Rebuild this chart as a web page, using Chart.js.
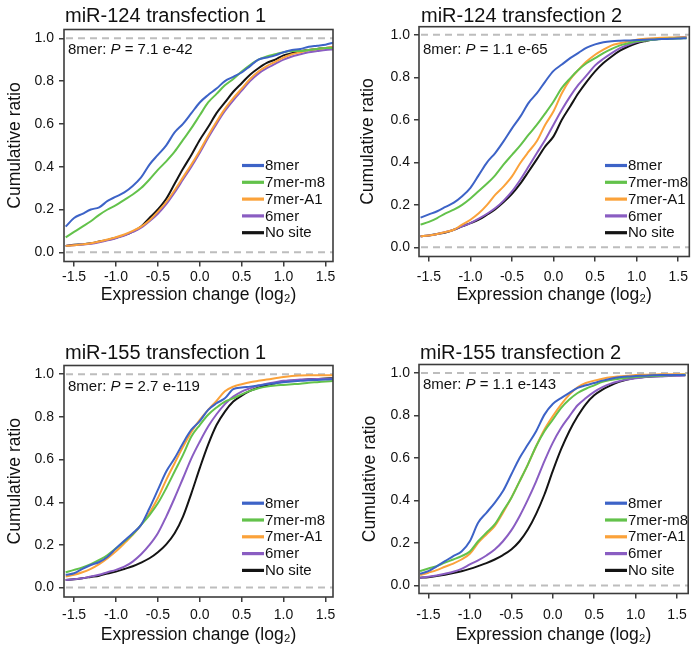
<!DOCTYPE html>
<html><head><meta charset="utf-8">
<script src="https://cdn.jsdelivr.net/npm/chart.js@4.4.1/dist/chart.umd.min.js"></script>
<style>
html,body{margin:0;padding:0;background:#fff;overflow:hidden;width:691px;height:648px;}
#wrap{position:relative;width:691px;height:648px;overflow:hidden;background:#fff;}
canvas{position:absolute;}
</style></head><body><div id="wrap">
<canvas id="c1" width="345" height="320" style="left:0px;top:0px"></canvas>
<canvas id="c2" width="350" height="320" style="left:345px;top:0px"></canvas>
<canvas id="c3" width="345" height="328" style="left:0px;top:320px"></canvas>
<canvas id="c4" width="350" height="328" style="left:345px;top:320px"></canvas>
</div>
<script>
// ---------- data ----------
const X_VALUES = [-1.6,-1.5,-1.4,-1.3,-1.2,-1.1,-1.0,-0.9,-0.8,-0.7,-0.6,-0.5,-0.4,-0.3,-0.2,-0.1,0,0.1,0.2,0.3,0.4,0.5,0.6,0.7,0.8,0.9,1.0,1.1,1.2,1.3,1.4,1.5,1.6];
const Y_TICKS = [0,0.2,0.4,0.6,0.8,1.0];
const X_TICKS = [-1.5,-1.0,-0.5,0,0.5,1.0,1.5];
const SERIES_NAMES = ['8mer','7mer-m8','7mer-A1','6mer','No site'];
const PANEL_TITLES = ['miR-124 transfection 1','miR-124 transfection 2','miR-155 transfection 1','miR-155 transfection 2'];
const P_VALUES = ['7.1 e-42','1.1 e-65','2.7 e-119','1.1 e-143'];
const Y_TITLE = 'Cumulative ratio';
const X_TITLE = 'Expression change (log\u2082)';

// miR-124 transfection 1
const P1_8MER   = [0.12,0.16,0.18,0.20,0.21,0.24,0.26,0.28,0.31,0.35,0.41,0.455,0.50,0.56,0.60,0.65,0.70,0.735,0.765,0.80,0.82,0.84,0.87,0.90,0.91,0.92,0.935,0.945,0.95,0.96,0.965,0.97,0.98];
const P1_7MER_M8 = [0.07,0.095,0.12,0.145,0.175,0.20,0.22,0.245,0.27,0.30,0.34,0.385,0.425,0.47,0.525,0.58,0.64,0.70,0.74,0.78,0.81,0.845,0.875,0.90,0.915,0.925,0.935,0.94,0.94,0.945,0.95,0.955,0.955];
const P1_7MER_A1 = [0.03,0.033,0.037,0.042,0.05,0.06,0.07,0.083,0.10,0.12,0.15,0.19,0.235,0.29,0.35,0.41,0.475,0.545,0.61,0.67,0.72,0.765,0.81,0.845,0.87,0.89,0.91,0.925,0.935,0.945,0.95,0.955,0.96];
const P1_6MER   = [0.03,0.033,0.036,0.04,0.047,0.056,0.066,0.078,0.095,0.115,0.145,0.18,0.225,0.28,0.34,0.40,0.465,0.535,0.60,0.66,0.71,0.755,0.80,0.835,0.86,0.88,0.90,0.915,0.925,0.935,0.94,0.945,0.948];
const P1_NOSITE = [0.03,0.035,0.037,0.042,0.05,0.058,0.068,0.08,0.097,0.12,0.16,0.20,0.25,0.32,0.39,0.455,0.525,0.585,0.65,0.70,0.75,0.79,0.83,0.86,0.885,0.90,0.92,0.93,0.94,0.945,0.95,0.955,0.958];

// miR-124 transfection 2
const P2_8MER   = [0.14,0.155,0.17,0.19,0.21,0.24,0.28,0.34,0.40,0.445,0.50,0.56,0.615,0.68,0.725,0.78,0.83,0.86,0.89,0.915,0.94,0.955,0.965,0.97,0.972,0.973,0.975,0.977,0.978,0.98,0.981,0.982,0.984];
const P2_7MER_M8 = [0.107,0.12,0.138,0.16,0.177,0.20,0.23,0.265,0.30,0.34,0.39,0.435,0.48,0.53,0.577,0.63,0.686,0.75,0.795,0.835,0.867,0.89,0.914,0.934,0.95,0.96,0.969,0.973,0.977,0.98,0.981,0.982,0.984];
const P2_7MER_A1 = [0.052,0.056,0.063,0.072,0.083,0.107,0.13,0.16,0.20,0.248,0.287,0.334,0.397,0.45,0.50,0.577,0.64,0.725,0.79,0.835,0.875,0.906,0.93,0.95,0.96,0.969,0.977,0.981,0.984,0.986,0.987,0.987,0.987];
const P2_6MER   = [0.052,0.056,0.063,0.072,0.083,0.099,0.114,0.135,0.158,0.185,0.22,0.263,0.318,0.38,0.444,0.506,0.577,0.647,0.71,0.765,0.81,0.856,0.887,0.914,0.937,0.953,0.966,0.973,0.978,0.981,0.984,0.986,0.987];
const P2_NOSITE = [0.052,0.056,0.063,0.07,0.083,0.099,0.114,0.13,0.154,0.18,0.213,0.252,0.30,0.357,0.415,0.475,0.522,0.60,0.663,0.726,0.78,0.828,0.867,0.898,0.925,0.945,0.96,0.97,0.978,0.981,0.984,0.986,0.987];

// miR-155 transfection 1
const P3_8MER   = [0.06,0.067,0.088,0.106,0.12,0.145,0.184,0.22,0.255,0.294,0.372,0.458,0.544,0.606,0.677,0.74,0.78,0.833,0.864,0.887,0.93,0.9375,0.942,0.947,0.953,0.958,0.963,0.966,0.969,0.972,0.973,0.975,0.978];
const P3_7MER_M8 = [0.072,0.083,0.095,0.11,0.13,0.153,0.184,0.216,0.25,0.294,0.34,0.395,0.466,0.544,0.622,0.708,0.762,0.81,0.844,0.872,0.887,0.906,0.922,0.934,0.942,0.947,0.95,0.953,0.956,0.96,0.963,0.966,0.969];
const P3_7MER_A1 = [0.052,0.06,0.072,0.088,0.11,0.138,0.17,0.208,0.247,0.294,0.35,0.42,0.505,0.583,0.66,0.73,0.786,0.833,0.875,0.92,0.942,0.953,0.9625,0.969,0.975,0.981,0.9875,0.992,0.994,0.995,0.995,0.995,0.995];
const P3_6MER   = [0.036,0.039,0.044,0.052,0.06,0.072,0.083,0.098,0.122,0.156,0.20,0.255,0.333,0.42,0.5125,0.606,0.684,0.755,0.8125,0.86,0.895,0.919,0.934,0.947,0.956,0.9625,0.969,0.972,0.975,0.977,0.978,0.978,0.98];
const P3_NOSITE = [0.036,0.039,0.044,0.05,0.056,0.066,0.075,0.0875,0.10,0.117,0.1375,0.166,0.203,0.255,0.333,0.442,0.56,0.67,0.762,0.825,0.872,0.90,0.922,0.9375,0.95,0.958,0.966,0.97,0.973,0.977,0.978,0.98,0.981];

// miR-155 transfection 2
const P4_8MER   = [0.055,0.067,0.09,0.114,0.138,0.16,0.208,0.295,0.342,0.389,0.444,0.522,0.60,0.663,0.726,0.804,0.854,0.882,0.906,0.93,0.942,0.953,0.964,0.973,0.98,0.983,0.986,0.987,0.989,0.99,0.99,0.99,0.99];
const P4_7MER_M8 = [0.067,0.08,0.09,0.107,0.122,0.138,0.16,0.208,0.248,0.287,0.35,0.412,0.49,0.569,0.655,0.726,0.78,0.835,0.875,0.906,0.926,0.942,0.958,0.967,0.973,0.978,0.981,0.984,0.986,0.987,0.989,0.99,0.992];
const P4_7MER_A1 = [0.049,0.06,0.072,0.088,0.103,0.122,0.149,0.20,0.24,0.279,0.342,0.412,0.49,0.569,0.655,0.734,0.796,0.851,0.898,0.933,0.953,0.964,0.973,0.98,0.984,0.987,0.99,0.992,0.992,0.994,0.994,0.994,0.994];
const P4_6MER   = [0.036,0.041,0.047,0.055,0.064,0.078,0.099,0.118,0.141,0.169,0.208,0.259,0.326,0.404,0.49,0.585,0.671,0.741,0.796,0.848,0.882,0.911,0.933,0.95,0.961,0.969,0.975,0.98,0.983,0.984,0.986,0.987,0.989];
const P4_NOSITE = [0.036,0.039,0.044,0.05,0.058,0.067,0.078,0.091,0.105,0.122,0.143,0.169,0.208,0.263,0.337,0.428,0.538,0.64,0.726,0.796,0.854,0.895,0.922,0.942,0.958,0.969,0.977,0.981,0.984,0.986,0.987,0.989,0.989];

const PANEL_SERIES = [
  [P1_8MER,P1_7MER_M8,P1_7MER_A1,P1_6MER,P1_NOSITE],
  [P2_8MER,P2_7MER_M8,P2_7MER_A1,P2_6MER,P2_NOSITE],
  [P3_8MER,P3_7MER_M8,P3_7MER_A1,P3_6MER,P3_NOSITE],
  [P4_8MER,P4_7MER_M8,P4_7MER_A1,P4_6MER,P4_NOSITE]
];

// ---------- styling / layout ----------
const COLORS = ['#3d63c7','#63c24b','#fba23a','#8a5dc2','#141414'];
const FONT = '"Liberation Sans", Arial, Helvetica, sans-serif';
const TEXT = '#111111';
const LAYOUT = [
  {id:'c1', pad:{top:29.5,right:12,left:0,bottom:0}, yW:64, xH:58.5, xr:[-1.62,1.59],  yr:[-0.043,1.041], yTickPad:5, xTickPad:2,   yTitlePad:4.5,  xTitlePad:14.5, titleDx:1, titleY:22, noteDx:4, noteDy:20.5, legDx:178, legDy:136},
  {id:'c2', pad:{top:26.7,right:2,left:0,bottom:0},  yW:74, xH:63.5, xr:[-1.619,1.634],yr:[-0.043,1.038], yTickPad:4, xTickPad:7,   yTitlePad:12.8, xTitlePad:14.5, titleDx:2, titleY:22, noteDx:4, noteDy:23.3, legDx:186, legDy:138.8},
  {id:'c3', pad:{top:45.5,right:12,left:0,bottom:0}, yW:64, xH:51,   xr:[-1.62,1.59],  yr:[-0.044,1.041], yTickPad:5, xTickPad:4.6, yTitlePad:4.5,  xTitlePad:2.5,  titleDx:1, titleY:39, noteDx:4, noteDy:21.2, legDx:178, legDy:137.7},
  {id:'c4', pad:{top:44.5,right:2,left:0,bottom:0},  yW:74, xH:54.5, xr:[-1.613,1.634],yr:[-0.038,1.04],  yTickPad:4, xTickPad:8.1, yTitlePad:14.5, xTitlePad:2.5,  titleDx:1, titleY:39, noteDx:4, noteDy:20.5, legDx:186, legDy:138.7}
];

const decor = {
  id: 'decor',
  beforeDatasetsDraw(chart, args, o) {
    const {ctx, chartArea:a, scales:{y}} = chart;
    ctx.save();
    ctx.strokeStyle = '#bdbdbd';
    ctx.lineWidth = 2;
    ctx.setLineDash([7,5]);
    [0,1].forEach(v => {
      const py = y.getPixelForValue(v);
      ctx.beginPath(); ctx.moveTo(a.left+2, py); ctx.lineTo(a.right, py); ctx.stroke();
    });
    ctx.restore();
  },
  afterDatasetsDraw(chart, args, o) {
    const {ctx, chartArea:a} = chart;
    const L = o.layout;
    ctx.save();
    // frame
    ctx.strokeStyle = '#3c3c3c';
    ctx.lineWidth = 1.6;
    ctx.strokeRect(a.left, a.top, a.right - a.left, a.bottom - a.top);
    // title
    ctx.fillStyle = TEXT;
    ctx.font = '20px ' + FONT;
    ctx.textBaseline = 'alphabetic';
    ctx.textAlign = 'left';
    ctx.fillText(o.title, a.left + L.titleDx, L.titleY);
    // note with italic P
    ctx.textBaseline = 'middle';
    let nx = a.left + L.noteDx; const ny = a.top + L.noteDy;
    ctx.font = '15px ' + FONT;
    ctx.fillText('8mer: ', nx, ny); nx += ctx.measureText('8mer: ').width;
    ctx.font = 'italic 15px ' + FONT;
    ctx.fillText('P', nx, ny); nx += ctx.measureText('P').width;
    ctx.font = '15px ' + FONT;
    ctx.fillText(' = ' + o.p, nx, ny);
    // legend
    chart.data.datasets.forEach((ds, i) => {
      const ly = a.top + L.legDy + i * 16.8;
      const lx = a.left + L.legDx;
      ctx.strokeStyle = ds.borderColor;
      ctx.lineWidth = 3.2;
      ctx.beginPath(); ctx.moveTo(lx, ly); ctx.lineTo(lx + 22, ly); ctx.stroke();
      ctx.fillStyle = TEXT;
      ctx.font = '15px ' + FONT;
      ctx.fillText(ds.label, lx + 23, ly + 0.5);
    });
    ctx.restore();
  }
};

LAYOUT.forEach((L, p) => {
  const datasets = SERIES_NAMES.map((name, i) => ({
    label: name,
    data: X_VALUES.map((x, k) => ({x: x, y: PANEL_SERIES[p][i][k]})),
    borderColor: COLORS[i],
    backgroundColor: COLORS[i],
    borderWidth: 2,
    pointRadius: 0,
    fill: false,
    cubicInterpolationMode: 'monotone'
  }));
  new Chart(document.getElementById(L.id), {
    type: 'line',
    data: {datasets},
    options: {
      responsive: false,
      animation: false,
      devicePixelRatio: 1,
      layout: {padding: L.pad},
      plugins: {
        legend: {display: false},
        title: {display: false},
        tooltip: {enabled: false},
        decor: {layout: L, title: PANEL_TITLES[p], p: P_VALUES[p]}
      },
      scales: {
        x: {
          type: 'linear', min: L.xr[0], max: L.xr[1],
          afterBuildTicks: s => { s.ticks = X_TICKS.map(v => ({value: v})); },
          afterFit: s => { s.height = L.xH; },
          ticks: {font: {size: 14, family: FONT}, color: TEXT, padding: L.xTickPad, maxRotation: 0,
                  callback: v => v.toFixed(1)},
          grid: {drawOnChartArea: false, drawTicks: true, tickLength: 5, color: '#3c3c3c', lineWidth: 1.5},
          border: {display: false},
          title: {display: true, text: X_TITLE, font: {size: 17.5, family: FONT}, color: TEXT, padding: {top: 0, bottom: L.xTitlePad}}
        },
        y: {
          type: 'linear', min: L.yr[0], max: L.yr[1],
          afterBuildTicks: s => { s.ticks = Y_TICKS.map(v => ({value: v})); },
          afterFit: s => { s.width = L.yW; },
          ticks: {font: {size: 14, family: FONT}, color: TEXT, padding: L.yTickPad,
                  callback: v => v.toFixed(1)},
          grid: {drawOnChartArea: false, drawTicks: true, tickLength: 5, color: '#3c3c3c', lineWidth: 1.5},
          border: {display: false},
          title: {display: true, text: Y_TITLE, font: {size: 17.5, family: FONT}, color: TEXT, padding: {top: L.yTitlePad, bottom: 0}}
        }
      }
    },
    plugins: [decor]
  });
});
</script>
</body></html>
